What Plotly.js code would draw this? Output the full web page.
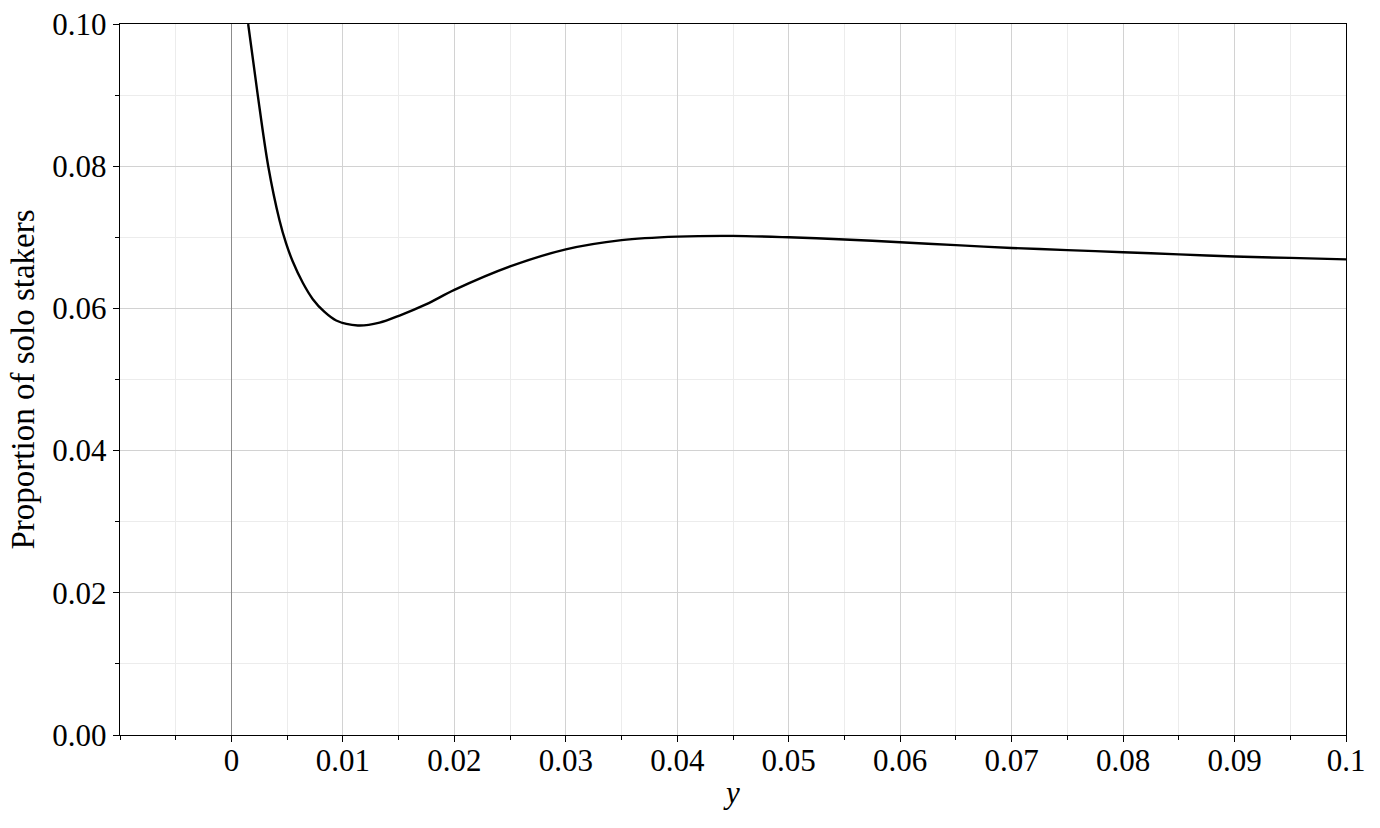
<!DOCTYPE html>
<html>
<head>
<meta charset="utf-8">
<script src="https://cdn.plot.ly/plotly-3.0.1.min.js"></script>
<style>
  html, body { margin: 0; padding: 0; background: #fff; }
  #chart { width: 1380px; height: 828px; }
</style>
</head>
<body>
<div id="chart"></div>
<script>
// values
var yVals = [0.00150, 0.00236, 0.00330, 0.00431, 0.00491, 0.00550, 0.00640, 0.00730, 0.00835, 0.00940,
             0.01134, 0.01329, 0.01508, 0.0175, 0.0200, 0.0250, 0.0300, 0.0350, 0.0400, 0.0450, 0.0500,
             0.0550, 0.0600, 0.0650, 0.0700, 0.0750, 0.0800, 0.0850, 0.0900, 0.0950, 0.1000];
var proportion = [0.1000, 0.0900, 0.0800, 0.0724, 0.0691, 0.0666, 0.0636, 0.0613, 0.0595, 0.0583,
                  0.0576, 0.0580, 0.0590, 0.0606, 0.0626, 0.0659, 0.0683, 0.0696, 0.0701, 0.0702, 0.0700,
                  0.0697, 0.0693, 0.0689, 0.0685, 0.0682, 0.0679, 0.0676, 0.0673, 0.0671, 0.0669];

var xTicks = [0, 0.01, 0.02, 0.03, 0.04, 0.05, 0.06, 0.07, 0.08, 0.09, 0.1];
var xTickText = ['0', '0.01', '0.02', '0.03', '0.04', '0.05', '0.06', '0.07', '0.08', '0.09', '0.1'];

var font = 'Liberation Serif, Times New Roman, serif';

var data = [
    {
        x: yVals,
        y: proportion,
        type: 'scatter',
        mode: 'lines',
        line: { color: '#000', width: 2.4, shape: 'spline', smoothing: 0.9 },
        hoverinfo: 'skip'
    }
];

var layout = {
    width: 1380,
    height: 828,
    margin: { l: 120, r: 34, t: 24, b: 93 },
    paper_bgcolor: '#fff',
    plot_bgcolor: '#fff',
    showlegend: false,
    font: { family: font, size: 31, color: '#000' },
    xaxis: {
        range: [-0.01, 0.1],
        tickmode: 'array',
        tickvals: xTicks,
        ticktext: xTickText,
        ticks: 'outside',
        ticklen: 6,
        tickcolor: '#000',
        ticklabelstandoff: -9,
        showline: true,
        linecolor: '#000',
        linewidth: 1.3,
        mirror: true,
        showgrid: true,
        gridcolor: '#d2d2d2',
        gridwidth: 1,
        zeroline: true,
        zerolinecolor: '#8c8c8c',
        zerolinewidth: 1.5,
        minor: { tickmode: 'linear', tick0: 0, dtick: 0.005, ticks: 'outside', ticklen: 4, tickcolor: '#000', showgrid: true, gridcolor: '#ececec' },
        title: { text: '<i>y</i>', font: { family: font, size: 31 }, standoff: 4 }
    },
    yaxis: {
        range: [0, 0.1],
        tickmode: 'linear',
        tick0: 0,
        dtick: 0.02,
        tickformat: '.2f',
        ticks: 'outside',
        ticklen: 6,
        tickcolor: '#000',
        showline: true,
        linecolor: '#000',
        linewidth: 1.3,
        mirror: true,
        showgrid: true,
        gridcolor: '#d2d2d2',
        zeroline: false,
        minor: { tickmode: 'linear', tick0: 0, dtick: 0.01, ticks: 'outside', ticklen: 4, tickcolor: '#000', showgrid: true, gridcolor: '#ececec' },
        title: { text: 'Proportion of solo stakers', font: { family: font, size: 33 }, standoff: 7 }
    }
};

Plotly.newPlot('chart', data, layout, { displayModeBar: false, staticPlot: true });
</script>
</body>
</html>
